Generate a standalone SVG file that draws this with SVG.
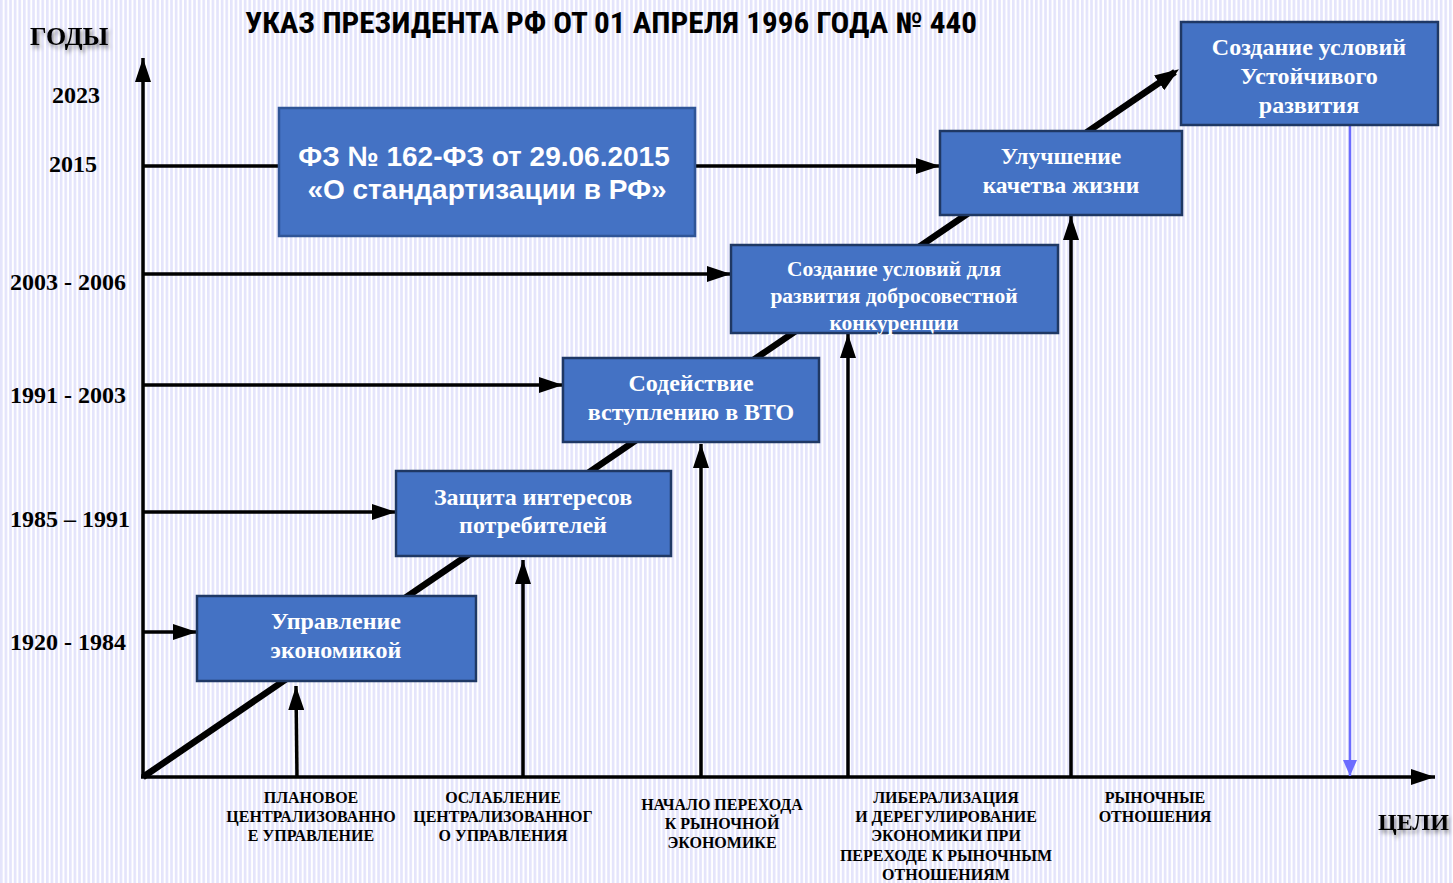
<svg xmlns="http://www.w3.org/2000/svg" width="1453" height="883" viewBox="0 0 1453 883">
<defs>
<pattern id="stripes" width="4.6" height="10" patternUnits="userSpaceOnUse">
<rect width="4.6" height="10" fill="#ffffff"/>
<rect width="2.6" height="10" fill="#e4e4fb"/>
</pattern>
<marker id="ah" viewBox="0 0 10 10" refX="10" refY="5" markerWidth="24" markerHeight="16" markerUnits="userSpaceOnUse" orient="auto" preserveAspectRatio="none">
<path d="M0,0 L10,5 L0,10 z" fill="#000"/>
</marker>
<marker id="ahd" viewBox="0 0 10 10" refX="8" refY="5" markerWidth="24" markerHeight="18" markerUnits="userSpaceOnUse" orient="auto" preserveAspectRatio="none">
<path d="M0,0 L10,5 L0,10 z" fill="#000"/>
</marker>
<marker id="ahb" viewBox="0 0 10 10" refX="10" refY="5" markerWidth="16" markerHeight="14" markerUnits="userSpaceOnUse" orient="auto" preserveAspectRatio="none">
<path d="M0,0 L10,5 L0,10 z" fill="#6b6bff"/>
</marker>
<filter id="sh" x="-20%" y="-40%" width="150%" height="200%">
<feDropShadow dx="2" dy="3" stdDeviation="2" flood-color="#000" flood-opacity="0.45"/>
</filter>
<style>
.box{fill:#4472c4;stroke:#1f3864;stroke-width:2.5}
.bt{font-family:"Liberation Serif","Times New Roman",serif;font-weight:bold;fill:#fff;text-anchor:middle}
.yr{font-family:"Liberation Serif","Times New Roman",serif;font-weight:bold;font-size:24px;fill:#000}
.gl{font-family:"Liberation Serif","Times New Roman",serif;font-weight:bold;font-size:16px;fill:#000;text-anchor:middle}
.ln{stroke:#000;stroke-width:3.5;fill:none}
</style>
</defs>
<rect width="1453" height="883" fill="url(#stripes)"/>

<text x="611" y="33" font-family="'Liberation Sans Narrow','Roboto Condensed','Liberation Sans',sans-serif" font-weight="bold" font-size="29" text-anchor="middle" fill="#000" textLength="732" lengthAdjust="spacingAndGlyphs">УКАЗ ПРЕЗИДЕНТА РФ ОТ 01 АПРЕЛЯ 1996 ГОДА № 440</text>

<g id="axis-labels">
<text class="yr" x="30" y="45" style="font-size:26px" filter="url(#sh)">ГОДЫ</text>
<text class="yr" x="52" y="103">2023</text>
<text class="yr" x="49" y="172">2015</text>
<text class="yr" x="10" y="290">2003 - 2006</text>
<text class="yr" x="10" y="403">1991 - 2003</text>
<text class="yr" x="10" y="527">1985 – 1991</text>
<text class="yr" x="10" y="650">1920 - 1984</text>
<text class="yr" x="1378" y="830" filter="url(#sh)">ЦЕЛИ</text>
</g>

<g id="connectors">
<line class="ln" x1="143" y1="777" x2="143" y2="58" marker-end="url(#ah)"/>
<line class="ln" x1="141" y1="777" x2="1435" y2="777" marker-end="url(#ah)"/>
<line x1="143" y1="777" x2="1175" y2="72" stroke="#000" stroke-width="6.5" marker-end="url(#ahd)"/>
<line class="ln" x1="143" y1="166" x2="280" y2="166"/>
<line class="ln" x1="695" y1="166" x2="940" y2="166" marker-end="url(#ah)"/>
<line class="ln" x1="143" y1="274" x2="731" y2="274" marker-end="url(#ah)"/>
<line class="ln" x1="143" y1="385" x2="563" y2="385" marker-end="url(#ah)"/>
<line class="ln" x1="143" y1="512" x2="396" y2="512" marker-end="url(#ah)"/>
<line class="ln" x1="143" y1="632" x2="197" y2="632" marker-end="url(#ah)"/>
<line class="ln" x1="297" y1="777" x2="296" y2="686" marker-end="url(#ah)"/>
<line class="ln" x1="523" y1="777" x2="523" y2="560" marker-end="url(#ah)"/>
<line class="ln" x1="701" y1="777" x2="701" y2="444" marker-end="url(#ah)"/>
<line class="ln" x1="848" y1="777" x2="848" y2="334" marker-end="url(#ah)"/>
<line class="ln" x1="1071" y1="777" x2="1071" y2="216" marker-end="url(#ah)"/>
<line x1="1350" y1="126" x2="1350" y2="776" stroke="#6b6bff" stroke-width="2.5" marker-end="url(#ahb)"/>
</g>

<g id="n-fz">
<rect x="279" y="108" width="416" height="128" fill="#4472c4" stroke="#2f5597" stroke-width="2.5"/>
<text x="484" y="166" font-family="'Liberation Sans',Arial,sans-serif" font-weight="bold" font-size="28" fill="#fff" text-anchor="middle">ФЗ № 162-ФЗ от 29.06.2015</text>
<text x="487" y="199" font-family="'Liberation Sans',Arial,sans-serif" font-weight="bold" font-size="28" fill="#fff" text-anchor="middle">«О стандартизации в РФ»</text>
</g>

<g id="n1">
<rect class="box" x="197" y="596" width="279" height="85"/>
<text class="bt" x="336" y="629" font-size="24">Управление</text>
<text class="bt" x="336" y="658" font-size="24">экономикой</text>
</g>
<g id="n2">
<rect class="box" x="396" y="471" width="275" height="85"/>
<text class="bt" x="533" y="505" font-size="24">Защита интересов</text>
<text class="bt" x="533" y="533" font-size="24">потребителей</text>
</g>
<g id="n3">
<rect class="box" x="563" y="358" width="256" height="84"/>
<text class="bt" x="691" y="391" font-size="24">Содействие</text>
<text class="bt" x="691" y="420" font-size="24">вступлению в ВТО</text>
</g>
<g id="n4">
<rect class="box" x="731" y="245" width="327" height="88"/>
<text class="bt" x="894" y="276" font-size="21.5">Создание условий для</text>
<text class="bt" x="894" y="303" font-size="21.5">развития добросовестной</text>
<text class="bt" x="894" y="330" font-size="21.5">конкуренции</text>
</g>
<g id="n5">
<rect class="box" x="940" y="131" width="242" height="84"/>
<text class="bt" x="1061" y="164" font-size="23.5">Улучшение</text>
<text class="bt" x="1061" y="193" font-size="23.5">качетва жизни</text>
</g>
<g id="n6">
<rect class="box" x="1181" y="22" width="257" height="103"/>
<text class="bt" x="1309" y="55" font-size="24">Создание условий</text>
<text class="bt" x="1309" y="84" font-size="24">Устойчивого</text>
<text class="bt" x="1309" y="113" font-size="24">развития</text>
</g>

<g id="goals">
<text class="gl" x="311" y="803">ПЛАНОВОЕ</text>
<text class="gl" x="311" y="822">ЦЕНТРАЛИЗОВАННО</text>
<text class="gl" x="311" y="841">Е УПРАВЛЕНИЕ</text>
<text class="gl" x="503" y="803">ОСЛАБЛЕНИЕ</text>
<text class="gl" x="503" y="822">ЦЕНТРАЛИЗОВАННОГ</text>
<text class="gl" x="503" y="841">О УПРАВЛЕНИЯ</text>
<text class="gl" x="722" y="810">НАЧАЛО ПЕРЕХОДА</text>
<text class="gl" x="722" y="829">К РЫНОЧНОЙ</text>
<text class="gl" x="722" y="848">ЭКОНОМИКЕ</text>
<text class="gl" x="946" y="803">ЛИБЕРАЛИЗАЦИЯ</text>
<text class="gl" x="946" y="822">И ДЕРЕГУЛИРОВАНИЕ</text>
<text class="gl" x="946" y="841">ЭКОНОМИКИ ПРИ</text>
<text class="gl" x="946" y="861">ПЕРЕХОДЕ К РЫНОЧНЫМ</text>
<text class="gl" x="946" y="880">ОТНОШЕНИЯМ</text>
<text class="gl" x="1155" y="803">РЫНОЧНЫЕ</text>
<text class="gl" x="1155" y="822">ОТНОШЕНИЯ</text>
</g>
</svg>
